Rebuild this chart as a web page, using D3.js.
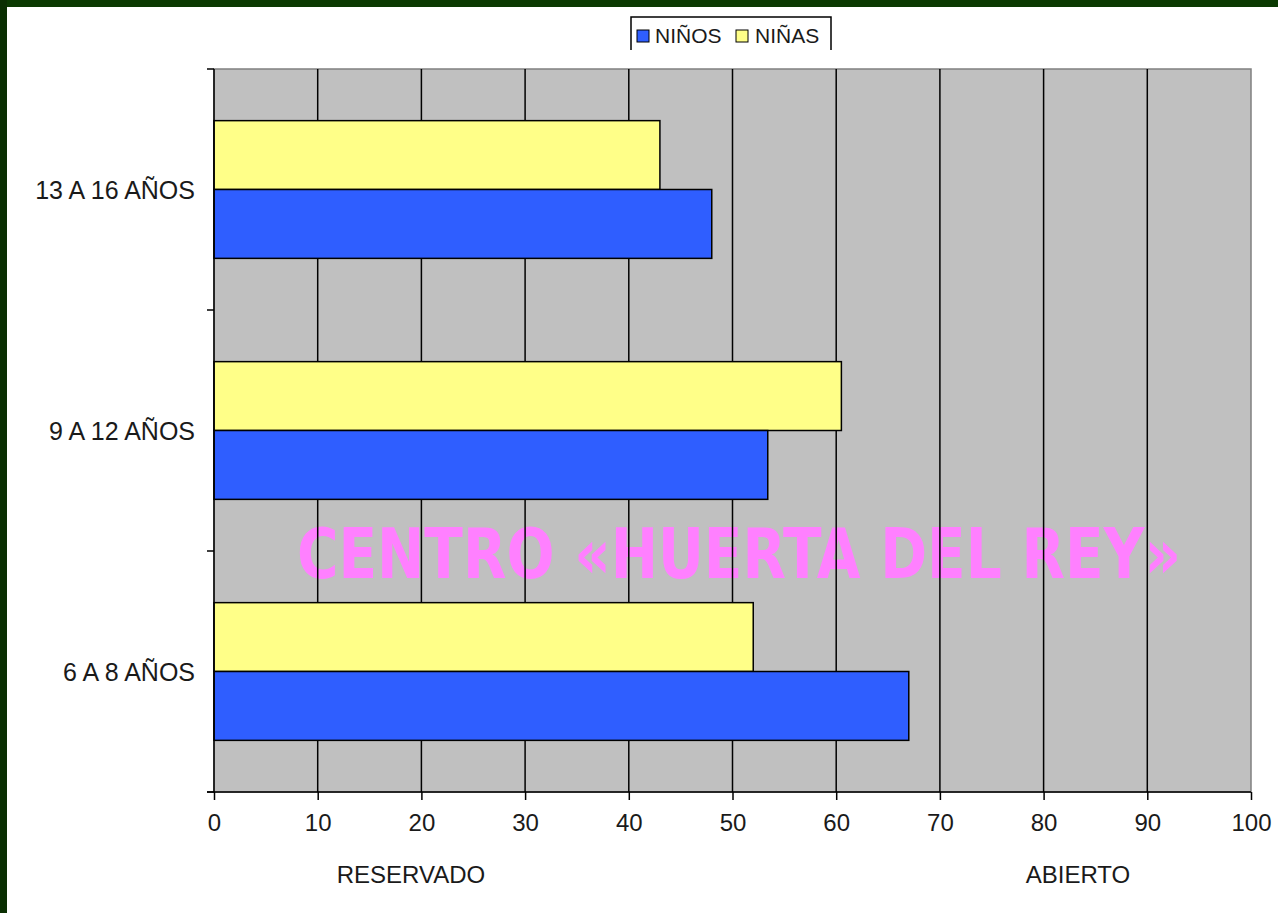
<!DOCTYPE html>
<meta charset="utf-8">
<style>
    body { margin: 0; background: #fff; overflow: hidden; }
    text { font-family: "Liberation Sans", Arial, sans-serif; fill: #1a1a1a; }
    .grid line { stroke: #000; stroke-width: 1.5px; }
    .bar { stroke: #000; stroke-width: 1.5px; }
</style>
<body>
<script src="https://cdn.jsdelivr.net/npm/d3@7"></script>
<script>

    var categories = ["13 A 16 AÑOS", "9 A 12 AÑOS", "6 A 8 AÑOS"];
    var series = ["NIÑAS", "NIÑOS"];
    var ninos = [48, 53.4, 67];     // same order as categories
    var ninas = [43, 60.5, 52];
    var xTicks = [0, 10, 20, 30, 40, 50, 60, 70, 80, 90, 100];
    var colors = { "NIÑOS": "#2f5eff", "NIÑAS": "#ffff88" };

    var width = 1278,
        height = 913,
        m = { top: 69, left: 214, right: 27, bottom: 121 };

    var svg = d3.select("body").append("svg")
        .attr("width", width)
        .attr("height", height)
        .style("display", "block");

    // white page with a dark green strip on top and left
    svg.append("rect").attr("width", width).attr("height", height).attr("fill", "#fff");
    svg.append("rect").attr("width", width).attr("height", 7).attr("fill", "#0b3a02");
    svg.append("rect").attr("width", 7).attr("height", height).attr("fill", "#0a2f02");

    var x = d3.scaleLinear().domain([0, 100]).range([m.left, width - m.right]);
    var y = d3.scaleBand().domain(categories).range([m.top, height - m.bottom]);
    var ys = d3.scaleBand().domain(series).range([0, y.bandwidth()]).paddingInner(0).paddingOuter(0.75);

    // plot area
    svg.append("rect")
        .attr("x", x(0)).attr("y", m.top)
        .attr("width", x(100) - x(0)).attr("height", height - m.bottom - m.top)
        .attr("fill", "#c0c0c0").attr("stroke", "#808080").attr("stroke-width", 1.5);

    // watermark (under grid), squeezed horizontally to the reference width
    var wm = svg.append("text")
        .style("font-family", "'DejaVu Sans Condensed', 'DejaVu Sans', sans-serif")
        .style("font-weight", "bold").style("font-size", "70px")
        .style("fill", "#ff80ff")
        .text("CENTRO «HUERTA DEL REY»");
    var wmw = wm.node().getComputedTextLength();
    wm.attr("transform", "translate(297,578) scale(" + (884 / wmw) + ",1)");

    svg.append("g").attr("class", "grid")
        .selectAll("line").data(xTicks.slice(1, -1)).enter().append("line")
        .attr("x1", function(d) { return x(d); }).attr("x2", function(d) { return x(d); })
        .attr("y1", m.top).attr("y2", height - m.bottom);

    var rows = categories.map(function(c, i) {
        return [{ cat: c, s: "NIÑAS", v: ninas[i] }, { cat: c, s: "NIÑOS", v: ninos[i] }];
    });

    svg.append("g").selectAll("g").data(rows).enter().append("g")
        .attr("transform", function(d) { return "translate(0," + y(d[0].cat) + ")"; })
        .selectAll("rect").data(function(d) { return d; }).enter().append("rect")
        .attr("class", "bar")
        .attr("x", x(0))
        .attr("y", function(d) { return ys(d.s); })
        .attr("width", function(d) { return x(d.v) - x(0); })
        .attr("height", ys.bandwidth())
        .attr("fill", function(d) { return colors[d.s]; });

    // x axis
    var xAxis = d3.axisBottom(x).tickValues(xTicks).tickSize(8).tickPadding(14).tickSizeOuter(0);
    var gx = svg.append("g").attr("transform", "translate(0," + (height - m.bottom) + ")").call(xAxis);
    gx.select(".domain").attr("stroke", "#000").attr("stroke-width", 1.5).attr("d", "M" + (x(0) - 7) + ",0H" + x(100));
    gx.selectAll(".tick line").attr("stroke", "#000").attr("stroke-width", 1.5);
    gx.selectAll(".tick text").style("font-size", "24px").attr("fill", "#1a1a1a")
        .style("font-family", "'Liberation Sans', Arial, sans-serif");

    // y axis
    var gy = svg.append("g").attr("transform", "translate(" + x(0) + ",0)");
    gy.append("line").attr("y1", m.top).attr("y2", height - m.bottom)
        .attr("stroke", "#000").attr("stroke-width", 1.5);
    gy.selectAll(".yt").data(categories.concat([null])).enter().append("line")
        .attr("x1", -7).attr("x2", 0)
        .attr("y1", function(d, i) { return m.top + i * y.step(); })
        .attr("y2", function(d, i) { return m.top + i * y.step(); })
        .attr("stroke", "#000").attr("stroke-width", 1.5);
    gy.selectAll(".cl").data(categories).enter().append("text")
        .attr("x", -19)
        .attr("y", function(d) { return y(d) + y.bandwidth() / 2 + 9; })
        .attr("text-anchor", "end")
        .style("font-size", "25px")
        .text(function(d) { return d; });

    svg.append("text").attr("x", 411).attr("y", 883).attr("text-anchor", "middle")
        .style("font-size", "24px").text("RESERVADO");
    svg.append("text").attr("x", 1078).attr("y", 883).attr("text-anchor", "middle")
        .style("font-size", "24px").text("ABIERTO");

    // legend
    var lg = svg.append("g");
    lg.append("path").attr("d", "M631,50V17H831V50").attr("fill", "none").attr("stroke", "#000").attr("stroke-width", 1.5);
    var items = [{ s: "NIÑOS", x: 637, tx: 655 }, { s: "NIÑAS", x: 736, tx: 755 }];
    items.forEach(function(it) {
        lg.append("rect").attr("x", it.x).attr("y", 30).attr("width", 12).attr("height", 12)
            .attr("fill", colors[it.s]).attr("stroke", "#000").attr("stroke-width", 1);
        lg.append("text").attr("x", it.tx).attr("y", 43).style("font-size", "21px").text(it.s);
    });

</script>
</body>
</html>
